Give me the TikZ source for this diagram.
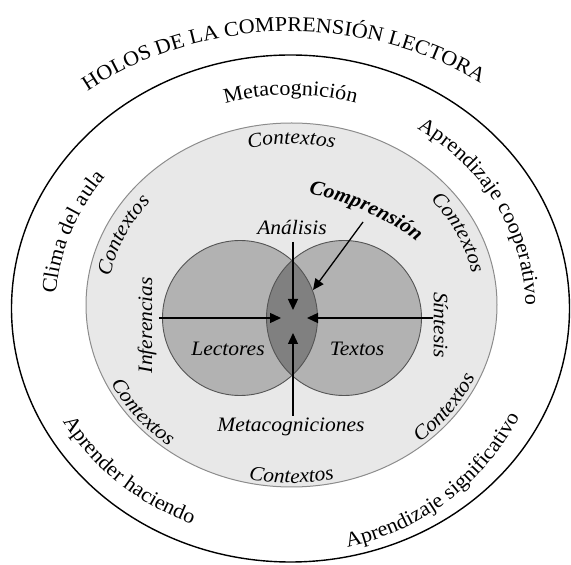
\documentclass[tikz,border=0pt]{standalone}
\usepackage{fontspec}
\setmainfont{Liberation Serif}[FakeStretch=1.05]
\usepackage{xcolor}
\usetikzlibrary{arrows.meta,decorations.text,positioning}
\definecolor{fieldgray}{gray}{0.91}
\definecolor{edgegray}{gray}{0.55}
\definecolor{setgray}{gray}{0.70}
\definecolor{lensgray}{gray}{0.50}
\definecolor{rimgray}{gray}{0.33}
\newcommand{\lab}{\fontsize{20.5}{24}\selectfont}
\newcommand{\rng}{\fontsize{21}{25}\selectfont}
\newcommand{\ttl}{\fontsize{21}{25}\selectfont}

\begin{document}
\begin{tikzpicture}[x=1pt,y=1pt,
                    ring/.style={line width=1.4pt, black},
                    field/.style={fill=fieldgray, draw=edgegray, line width=1pt},
                    rim/.style={draw=rimgray, line width=0.9pt},
                    flow/.style={line width=1.3pt, -{Triangle[length=11pt,width=10pt]}},
                    curved/.style={decorate, decoration={text along path, text align=center, text={#1}}},
                    lbl/.style={font=\lab\itshape, inner sep=0pt},
                   ]
\useasboundingbox (0,0) rectangle (571,565);

\coordinate (ctrO) at (290.5,256.5);
\coordinate (ctrI) at (291.5,260);

% outer ring and the field of contexts
\draw[ring] (ctrO) ellipse [x radius=279, y radius=253.5];
\draw[field] (ctrI) ellipse [x radius=205.5, y radius=182];

% readers and texts
\fill[setgray] (240,247) circle [radius=77.5];
\fill[setgray] (344,247) circle [radius=77.5];
\begin{scope}
  \clip (240,247) circle [radius=77.5];
  \fill[lensgray] (344,247) circle [radius=77.5];
\end{scope}
\draw[rim] (240,247) circle [radius=77.5];
\draw[rim] (344,247) circle [radius=77.5];

% labels inside
\node[lbl] (analisis) at (292,338) {Análisis};
\node[lbl] (lectores) at (228,216) {Lectores};
\node[lbl] (textos) at (357,216) {Textos};
\node[lbl, rotate=90] (inferencias) at (147,240) {Inferencias};
\node[lbl, rotate=-90] (sintesis) at (441,240) {Síntesis};
\node[lbl] (metacogs) at (291,138) {Metacogniciones};

% arrows to the centre
\coordinate (nIn) at (293,323);
\coordinate (nTip) at (293,255);
\coordinate (sIn) at (293,149);
\coordinate (sTip) at (293,232);
\coordinate (wIn) at (159,247);
\coordinate (wTip) at (281,247);
\coordinate (eIn) at (433,247);
\coordinate (eTip) at (307,247);
\coordinate (cIn) at (363,343);
\coordinate (cTip) at (313,275);
\draw[flow] (nIn) -- (nTip);
\draw[flow] (sIn) -- (sTip);
\draw[flow] (wIn) -- (wTip);
\draw[flow] (eIn) -- (eTip);
\draw[flow] (cIn) -- (cTip);

\path[curved={|\lab\bfseries\itshape|Comprensión}] (301,373) .. controls (340,366) and (387,349) .. (423,318);

% contexts round the field
\path[curved={|\lab\itshape|Contextos}] ([shift={(150:184 and 161)}]ctrI) arc [start angle=150, end angle=30, x radius=184, y radius=161];
\path[curved={|\lab\itshape|Contextos}] ([shift={(196:184 and 161)}]ctrI) arc [start angle=196, end angle=116, x radius=184, y radius=161];
\path[curved={|\lab\itshape|Contextos}] ([shift={(65:184 and 161)}]ctrI) arc [start angle=65, end angle=-15, x radius=184, y radius=161];
\path[curved={|\lab\itshape|Contextos}] ([shift={(178:201 and 178)}]ctrI) arc [start angle=178, end angle=258, x radius=201, y radius=178];
\path[curved={|\lab\itshape|Contextos}] ([shift={(230:201 and 178)}]ctrI) arc [start angle=230, end angle=310, x radius=201, y radius=178];
\path[curved={|\lab\itshape|Contextos}] ([shift={(284:201 and 178)}]ctrI) arc [start angle=284, end angle=364, x radius=201, y radius=178];

% ring of the holos
\path[curved={|\rng|Metacognición}] ([shift={(130:235 and 213.5)}]ctrO) arc [start angle=130, end angle=50, x radius=235, y radius=213.5];
\path[curved={|\rng|Aprendizaje cooperativo}] ([shift={(85:235 and 213.5)}]ctrO) arc [start angle=85, end angle=-29, x radius=235, y radius=213.5];
\path[curved={|\rng|Clima del aula}] ([shift={(210:235 and 213.5)}]ctrO) arc [start angle=210, end angle=110, x radius=235, y radius=213.5];
\path[curved={|\rng|Aprender haciendo}] ([shift={(180:260 and 233)}]ctrO) arc [start angle=180, end angle=274, x radius=260, y radius=233];
\path[curved={|\rng|Aprendizaje significativo}] ([shift={(249:255 and 245)}]ctrO) arc [start angle=249, end angle=369, x radius=255, y radius=245];

% title
\path[curved={|\ttl|HOLOS DE LA COMPRENSIÓN LECTORA}] ([shift={(151.5:327 and 277)}]ctrO) arc [start angle=151.5, end angle=31.5, x radius=327, y radius=277];
\end{tikzpicture}
\end{document}
